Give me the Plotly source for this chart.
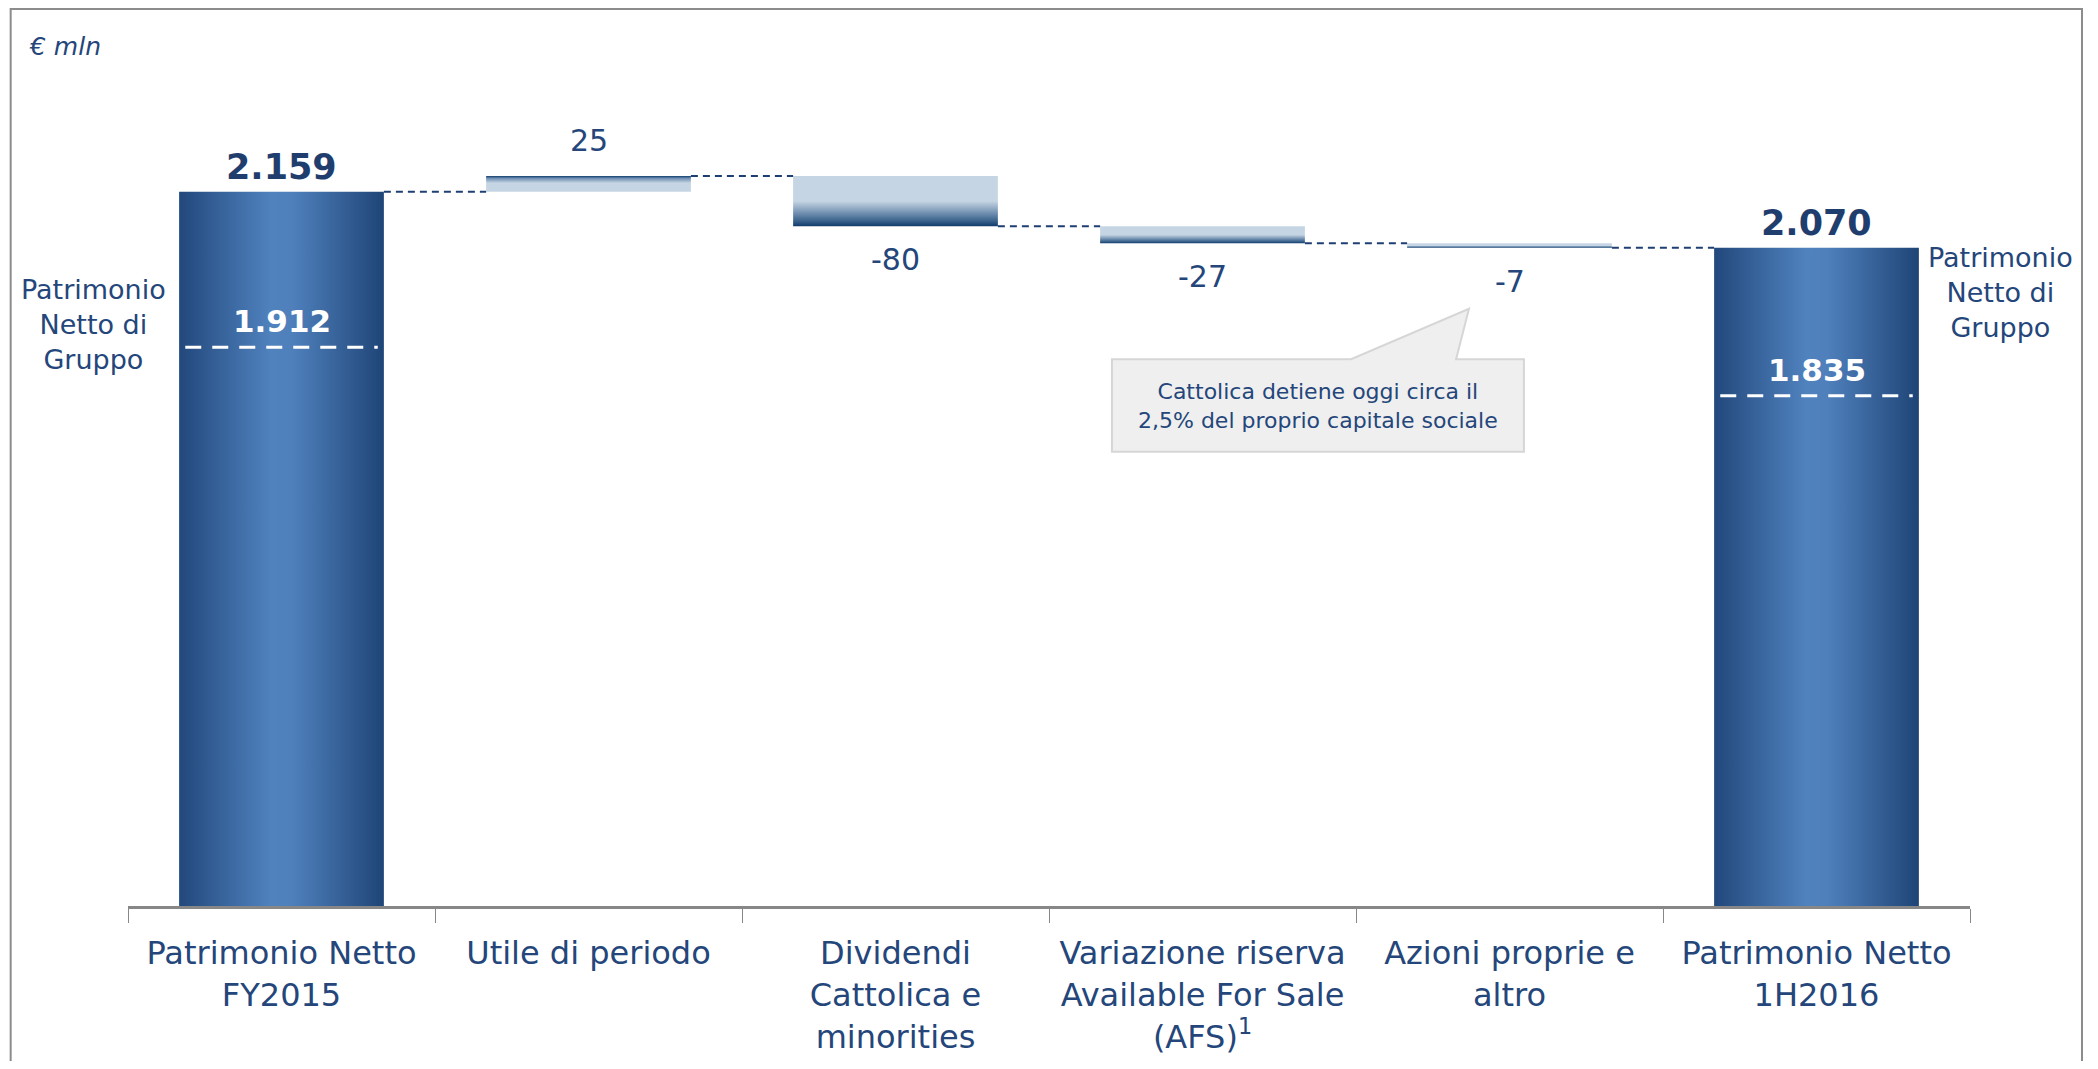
import plotly.graph_objects as go

# data
categories = [
    "Patrimonio Netto<br>FY2015",
    "Utile di periodo",
    "Dividendi<br>Cattolica e<br>minorities",
    "Variazione riserva<br>Available For Sale<br>(AFS)<sup>1</sup>",
    "Azioni proprie e<br>altro",
    "Patrimonio Netto<br>1H2016",
]
start_total = 2159
changes = [25, -80, -27, -7]
end_total = 2070
group_equity = [1912, 1835]
total_labels = ["2.159", "2.070"]
change_labels = ["25", "-80", "-27", "-7"]
group_labels = ["1.912", "1.835"]

NAVY = "#24467A"
DARK = "#0F3A6A"
LIGHT = "#C5D5E4"
FONT = "DejaVu Sans, Century Gothic, sans-serif"
W = 0.667
Y_MIN, Y_MAX = 1025, 2368

fig = go.Figure()

total_scale = [[0, "#22487C"], [0.45, "#5082BE"], [0.55, "#4F80BC"], [1, "#1F4577"]]
pos_scale = [[0, LIGHT], [0.55, LIGHT], [0.85, "#6E8EB2"], [1, DARK]]
neg_scale = [[0, DARK], [0.12, "#3E6690"], [0.5, LIGHT], [1, LIGHT]]


def bar(i, lo, hi, grad):
    fig.add_trace(go.Scatter(
        x=[i - W / 2, i + W / 2, i + W / 2, i - W / 2, i - W / 2],
        y=[lo, lo, hi, hi, lo],
        mode="lines", line=dict(width=0), fill="toself",
        fillgradient=grad, fillcolor=LIGHT, hoverinfo="skip",
        showlegend=False,
    ))


# totals
totals = [(0, start_total, group_equity[0], total_labels[0], group_labels[0]),
          (5, end_total, group_equity[1], total_labels[1], group_labels[1])]
for i, val, grp, lab, glab in totals:
    bar(i, 0, val, dict(type="horizontal", colorscale=total_scale))
    fig.add_trace(go.Scatter(
        x=[i - W / 2 + 0.02, i + W / 2 - 0.02], y=[grp, grp], mode="lines",
        line=dict(color="white", width=3, dash="16px,11px"),
        hoverinfo="skip", showlegend=False,
    ))
    fig.add_annotation(x=i, y=val, text=f"<b>{lab}</b>", showarrow=False,
                       yanchor="bottom", yshift=3,
                       font=dict(size=35, color="#1F3E6E", family=FONT))
    fig.add_annotation(x=i, y=grp, text=f"<b>{glab}</b>", showarrow=False,
                       yanchor="bottom", yshift=6,
                       font=dict(size=31, color="white", family=FONT))

# steps
level = start_total
levels = [start_total]
for k, (ch, lab) in enumerate(zip(changes, change_labels)):
    i = k + 1
    lo, hi = min(level, level + ch), max(level, level + ch)
    bar(i, lo, hi, dict(type="vertical", colorscale=pos_scale if ch > 0 else neg_scale))
    if ch > 0:
        fig.add_annotation(x=i, y=hi, text=lab, showarrow=False, yanchor="bottom",
                           yshift=16, font=dict(size=30, color=NAVY, family=FONT))
    else:
        fig.add_annotation(x=i, y=lo, text=lab, showarrow=False, yanchor="top",
                           yshift=-14, font=dict(size=30, color=NAVY, family=FONT))
    level += ch
    levels.append(level)

# connectors
for i, lv in enumerate(levels):
    fig.add_trace(go.Scatter(
        x=[i + W / 2, i + 1 - W / 2], y=[lv, lv], mode="lines",
        line=dict(color="#1F3F73", width=2, dash="7px,5px"),
        hoverinfo="skip", showlegend=False,
    ))

# side labels
for xp, yp in [(-0.0185, 0.687), (1.0163, 0.7246)]:
    fig.add_annotation(xref="paper", yref="paper", x=xp, y=yp,
                       xanchor="center", yanchor="middle",
                       text="Patrimonio<br>Netto di<br>Gruppo", showarrow=False,
                       font=dict(size=27, color=NAVY, family=FONT))

fig.add_annotation(xref="paper", yref="paper", x=-0.0548, y=1.0154,
                   xanchor="left", yanchor="middle",
                   text="<i>€ mln</i>", showarrow=False,
                   font=dict(size=25, color=NAVY, family=FONT))

# callout
fig.add_shape(type="path", xref="x", yref="y",
              path="M 2.705,1893 L 3.484,1893 L 3.868,1973 L 3.826,1893 L 4.047,1893 "
                   "L 4.047,1746 L 2.705,1746 Z",
              fillcolor="#EFEFEF", line=dict(color="#D6D6D6", width=2))
fig.add_annotation(x=3.376, y=1819, text="Cattolica detiene oggi circa il<br>2,5% del proprio capitale sociale",
                   showarrow=False, font=dict(size=22, color=NAVY, family=FONT))

# frame
fig.add_shape(type="rect", xref="paper", yref="paper", x0=-0.0637, x1=1.0608,
              y0=-0.3, y1=1.0603, line=dict(color="#8C8C8C", width=2), layer="below")

fig.update_xaxes(
    range=[-0.5, 5.5], tickvals=list(range(6)), ticktext=categories,
    ticks="", showline=True, linecolor="#878787", linewidth=3, showgrid=False,
    zeroline=False, ticklabelstandoff=17, automargin=False,
    tickfont=dict(size=32, color=NAVY, family=FONT),
    minor=dict(tickvals=[i - 0.5 for i in range(7)], ticks="outside", ticklen=14,
               tickcolor="#878787", tickwidth=1, showgrid=False),
)
fig.update_yaxes(range=[Y_MIN, Y_MAX], visible=False)
fig.update_layout(
    width=2082, height=1053,
    margin=dict(l=120, r=120, t=52, b=155),
    plot_bgcolor="white", paper_bgcolor="white",
    showlegend=False,
)

fig.write_html("out.html")
